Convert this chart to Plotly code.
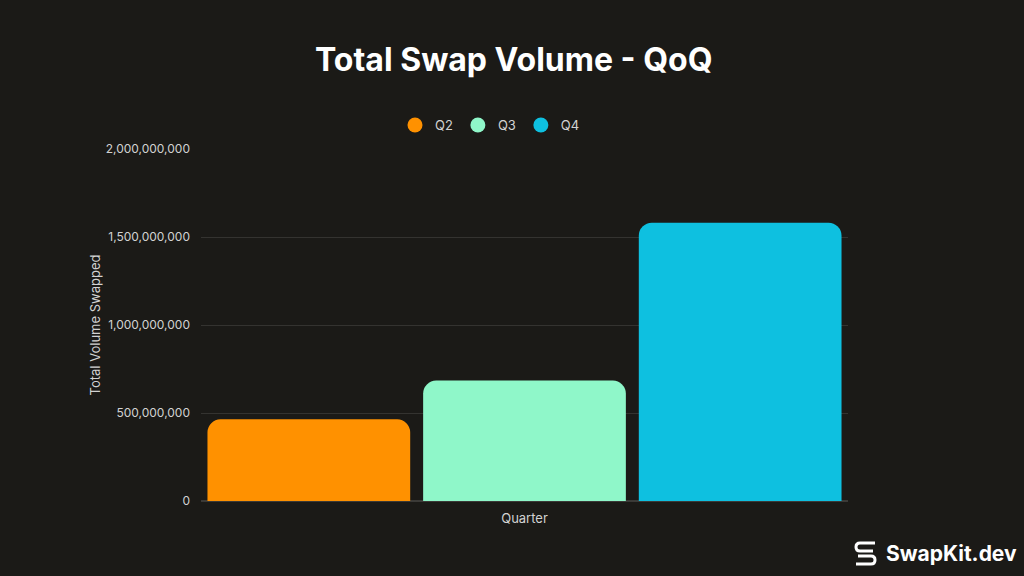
import plotly.graph_objects as go

# Data
quarters = ["Q2", "Q3", "Q4"]
volumes = [464_000_000, 684_000_000, 1_581_000_000]
colors = ["#ff9100", "#8ff7c9", "#0ec0e0"]

y_ticks = [0, 500_000_000, 1_000_000_000, 1_500_000_000, 2_000_000_000]

BG = "#1b1a17"
FONT = "Inter, Liberation Sans, sans-serif"
TXT = "#d2d2d2"

# Plot area in pixels (used to place title, legend and logo)
L, R, T, B = 201, 176, 149, 75
W, H = 1024 - L - R, 576 - T - B


def px(x):
    return (x - L) / W


def py(y):
    return (576 - B - y) / H


fig = go.Figure()

# Bars, one trace per quarter so they sit side by side
for q, v, c in zip(quarters, volumes, colors):
    fig.add_trace(go.Bar(
        x=["Quarter"], y=[v], name=q,
        marker=dict(color=c, line=dict(width=0)),
        showlegend=False,
        hovertemplate=q + ": %{y:,.0f}<extra></extra>"
    ))

# Legend entries with round markers
for q, c in zip(quarters, colors):
    fig.add_trace(go.Scatter(
        x=[None], y=[None], mode="markers", name=q,
        marker=dict(color=c, size=15, symbol="circle"),
        showlegend=True
    ))

# Title
fig.add_annotation(
    x=px(513), y=py(60), xref="paper", yref="paper",
    text="<b>Total Swap Volume - QoQ</b>", showarrow=False,
    xanchor="center", yanchor="middle",
    font=dict(family=FONT, size=32, color="white")
)

# Logo text
fig.add_annotation(
    x=px(884), y=py(553), xref="paper", yref="paper",
    text="<b>SwapKit.dev</b>", showarrow=False,
    xanchor="left", yanchor="middle",
    font=dict(family=FONT, size=21, color="white")
)

# Logo icon, roughly an S drawn with two strokes
icon_path = (
    f"M {px(875)},{py(543)} L {px(860)},{py(543)} "
    f"Q {px(856)},{py(543)} {px(856)},{py(547)} "
    f"Q {px(856)},{py(551)} {px(860)},{py(551)} L {px(873)},{py(551)} "
    f"M {px(858)},{py(556)} L {px(871)},{py(556)} "
    f"Q {px(875)},{py(556)} {px(875)},{py(560)} "
    f"Q {px(875)},{py(564)} {px(871)},{py(564)} L {px(856)},{py(564)}"
)
fig.add_shape(
    type="path", path=icon_path, xref="paper", yref="paper",
    line=dict(color="white", width=3)
)

fig.update_layout(
    width=1024, height=576,
    paper_bgcolor=BG, plot_bgcolor=BG,
    margin=dict(l=L, r=R, t=T, b=B, autoexpand=False),
    barmode="group", bargap=0.0, bargroupgap=0.06,
    barcornerradius=13,
    font=dict(family=FONT, size=12, color=TXT),
    legend=dict(
        orientation="h", x=px(490), y=py(125),
        xanchor="center", yanchor="middle",
        font=dict(family=FONT, size=13, color=TXT),
        bgcolor="rgba(0,0,0,0)", itemwidth=30,
        tracegroupgap=0
    ),
    xaxis=dict(
        showticklabels=False, showgrid=False, zeroline=False,
        title=dict(text="Quarter", standoff=12,
                   font=dict(family=FONT, size=13, color=TXT)),
        showline=False
    ),
    yaxis=dict(
        range=[0, 2_000_000_000], tickvals=y_ticks,
        tickformat=",d", ticks="", ticklabelstandoff=10,
        gridcolor="rgba(255,255,255,0.11)", gridwidth=1,
        zeroline=True, zerolinecolor="rgba(255,255,255,0.14)",
        title=dict(text="Total Volume Swapped", standoff=2,
                   font=dict(family=FONT, size=13, color=TXT)),
        tickfont=dict(family=FONT, size=12, color=TXT)
    ),
    hoverlabel=dict(font_family=FONT)
)

# Remove the page's default body margin so the figure fills the window
fig.write_html(
    "out.html",
    config={"displayModeBar": False},
    post_script="document.body.style.margin='0';"
                "document.body.style.background='%s';" % BG
)
